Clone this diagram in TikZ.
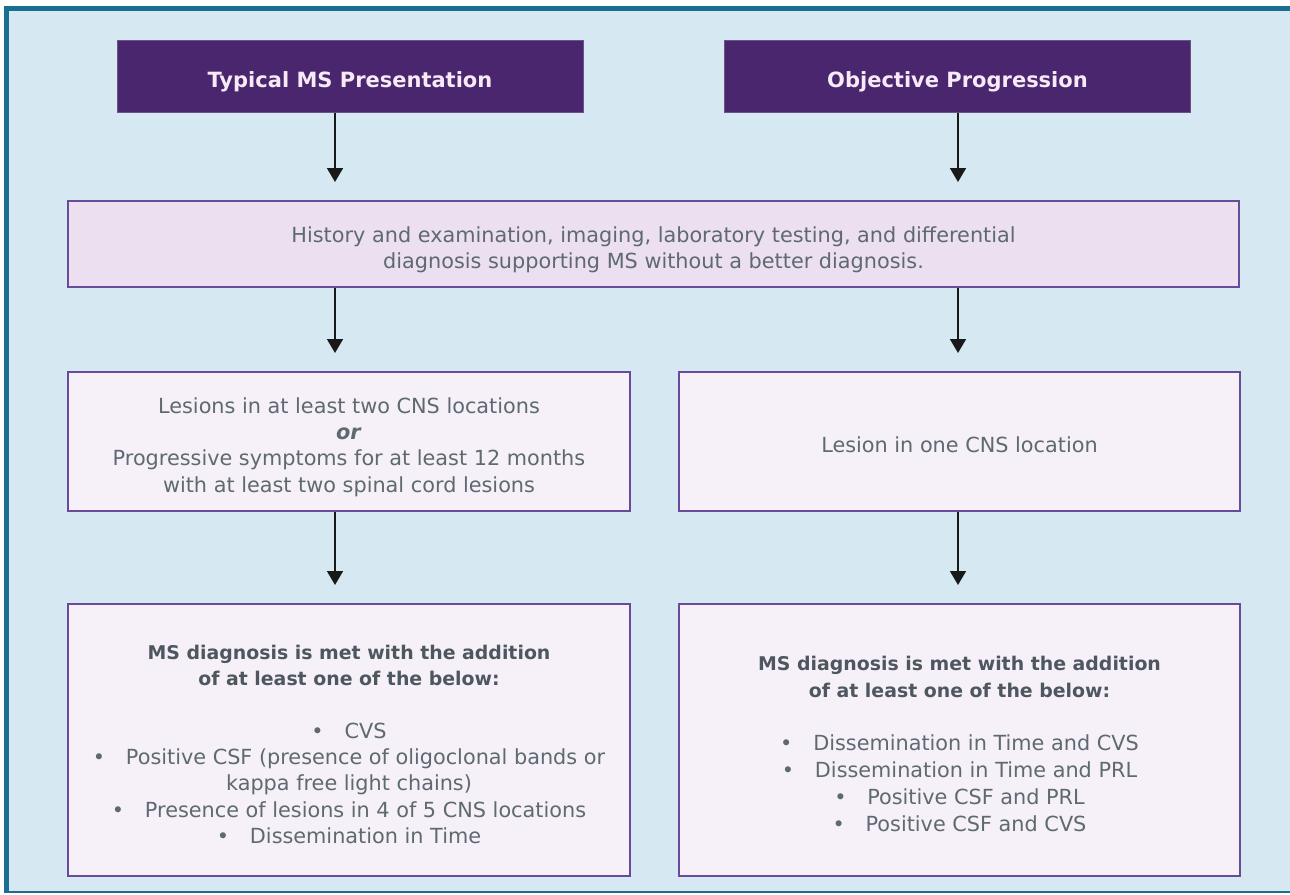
\documentclass[tikz,border=0pt]{standalone}
\usepackage{fontspec}
\setmainfont{DejaVu Sans}
\usetikzlibrary{arrows.meta}
\definecolor{bgblue}{HTML}{D6E8F2}
\definecolor{frameteal}{HTML}{1A6E91}
\definecolor{hdrpurple}{HTML}{4A266E}
\definecolor{boxedge}{HTML}{6A4A9A}
\definecolor{pinkfill}{HTML}{ECDFF0}
\definecolor{lightfill}{HTML}{F6F1F8}
\definecolor{txtgray}{HTML}{5E6972}
\definecolor{boldgray}{HTML}{4E5760}
\definecolor{hdrtext}{HTML}{F6EAF6}
\tikzset{
  hdrbox/.style={fill=hdrpurple, draw=hdrpurple!80!white, line width=1pt, minimum width=466pt, minimum height=72pt, inner sep=0pt},
  hdrtxt/.style={inner sep=0pt, text=hdrtext, font=\fontsize{21}{26}\selectfont\bfseries},
  contentbox/.style={fill=lightfill, draw=boxedge, line width=2pt, inner sep=0pt},
  histbox/.style={contentbox, fill=pinkfill},
  bodytxt/.style={inner sep=0pt, text=txtgray, align=center, font=\fontsize{20.8}{26.3}\selectfont},
  arr/.style={line width=1.8pt, draw=black!90, -{Triangle[width=16pt,length=14pt]}, shorten >=18pt}
}
\newcommand{\bl}{\textbullet\hspace{1.0em}}
\newcommand{\bt}[1]{{\color{boldgray}\bfseries\fontsize{18.9}{26.3}\selectfont #1}}
\begin{document}
\begin{tikzpicture}[x=1pt,y=-1pt]
\useasboundingbox (0,0) rectangle (1290,894);
\fill[white] (0,0) rectangle (1290,894);
\fill[bgblue] (6.5,8.5) rectangle (1290,892);
\draw[frameteal, line width=5pt] (1290,8.5) -- (6.5,8.5) -- (6.5,893);
\draw[frameteal, line width=2pt] (6.5,892) -- (1290,892);

\coordinate (cl) at (335,0);
\coordinate (cr) at (958,0);

% boxes
\node[hdrbox] (tl) at (350,76) {};
\node[hdrbox] (tr) at (957.5,76) {};
\node[histbox, minimum width=1171pt, minimum height=86pt] (hist) at (653.5,244) {};
\node[contentbox, minimum width=562pt, minimum height=139pt] (ml) at (349,441.5) {};
\node[contentbox, minimum width=561pt, minimum height=139pt] (mr) at (959.5,441.5) {};
\node[contentbox, minimum width=562pt, minimum height=272pt] (bl) at (349,740) {};
\node[contentbox, minimum width=561pt, minimum height=272pt] (br) at (959.5,740) {};

% texts
\node[hdrtxt] (tlt) at (350,82) {\strut Typical MS Presentation};
\node[hdrtxt] (trt) at (957.5,82) {\strut Objective Progression};
\node[bodytxt] (histt) at (653.5,250)
  {\strut History and examination, imaging, laboratory testing, and differential\\diagnosis supporting MS without a better diagnosis.\strut};
\node[bodytxt] (mlt) at (349,447.5)
  {\strut Lesions in at least two CNS locations\\\textbf{\textit{or}}\\Progressive symptoms for at least 12 months\\with at least two spinal cord lesions\strut};
\node[bodytxt] (mrt) at (959.5,447) {\strut Lesion in one CNS location\strut};
\node[bodytxt] (blt) at (349,746)
  {\strut\bt{MS diagnosis is met with the addition}\\\bt{of at least one of the below:}\\[26.3pt]
   \bl CVS\\\bl Positive CSF (presence of oligoclonal bands or\\kappa free light chains)\\\bl Presence of lesions in 4 of 5 CNS locations\\\bl Dissemination in Time\strut};
\node[bodytxt, font=\fontsize{20.8}{26.8}\selectfont] (brt) at (959.5,745.5)
  {\strut\bt{MS diagnosis is met with the addition}\\\bt{of at least one of the below:}\\[26.3pt]
   \bl Dissemination in Time and CVS\\\bl Dissemination in Time and PRL\\\bl Positive CSF and PRL\\\bl Positive CSF and CVS\strut};

% connectors
\draw[arr] (tl.south -| cl) -- (hist.north -| cl);
\draw[arr] (tr.south -| cr) -- (hist.north -| cr);
\draw[arr] (hist.south -| cl) -- (ml.north -| cl);
\draw[arr] (hist.south -| cr) -- (mr.north -| cr);
\draw[arr] (ml.south -| cl) -- (bl.north -| cl);
\draw[arr] (mr.south -| cr) -- (br.north -| cr);
\end{tikzpicture}
\end{document}
